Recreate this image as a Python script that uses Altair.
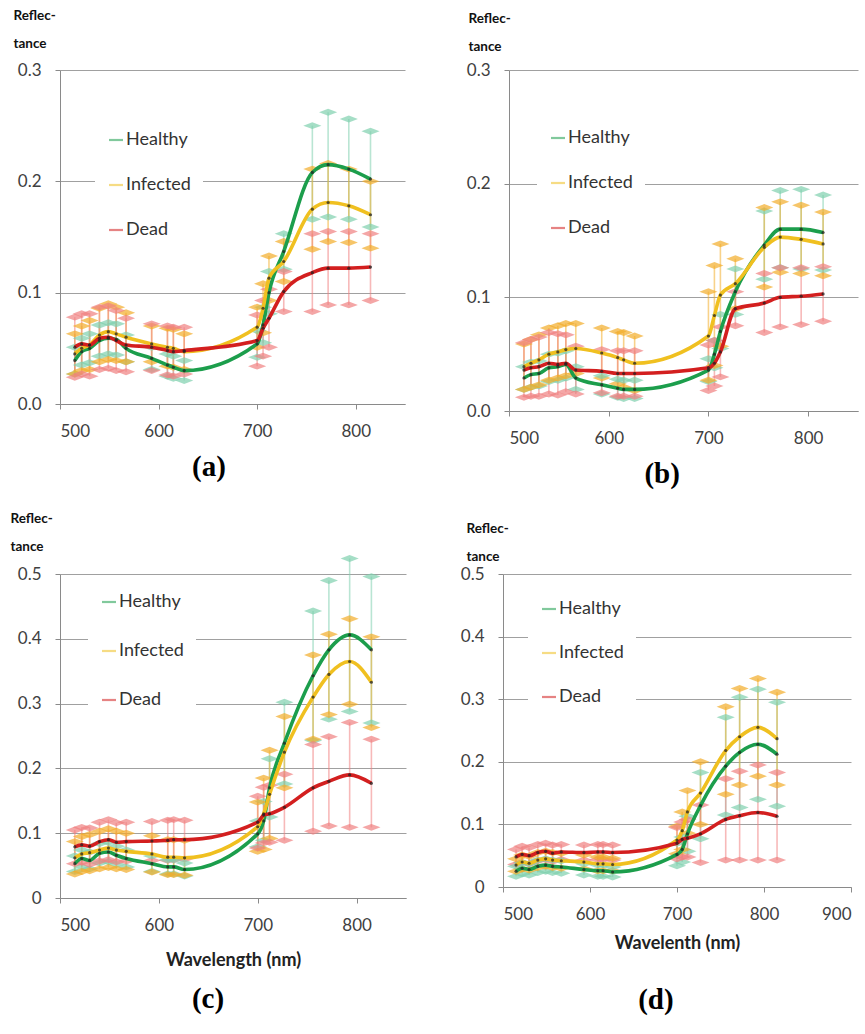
import altair as alt
import pandas as pd

WAVE = [515, 522, 530, 540, 549, 557, 567, 593, 609, 615, 626, 700, 706, 712, 727, 756, 772, 793, 815]
SERIES = ["Healthy", "Infected", "Dead"]
LINE_COLORS = ["#1c9e4c", "#f0c020", "#d31f1f"]
ERR_COLORS = ["#7fd0ae", "#f2ad2a", "#f08080"]

# Panel (a)
A_H = [0.039, 0.047, 0.050, 0.057, 0.059, 0.058, 0.050, 0.041, 0.035, 0.033, 0.030, 0.054, 0.071, 0.100, 0.137, 0.208, 0.215, 0.211, 0.202]
A_H_SD = [0.012, 0.012, 0.013, 0.014, 0.014, 0.014, 0.012, 0.010, 0.010, 0.010, 0.009, 0.012, 0.016, 0.019, 0.016, 0.042, 0.047, 0.045, 0.043]
A_I = [0.045, 0.050, 0.053, 0.062, 0.065, 0.063, 0.060, 0.054, 0.051, 0.050, 0.047, 0.069, 0.086, 0.113, 0.128, 0.175, 0.181, 0.178, 0.170]
A_I_SD = [0.018, 0.020, 0.022, 0.024, 0.025, 0.024, 0.022, 0.016, 0.017, 0.017, 0.016, 0.018, 0.022, 0.020, 0.018, 0.036, 0.035, 0.033, 0.030]
A_D = [0.051, 0.054, 0.053, 0.059, 0.060, 0.057, 0.053, 0.051, 0.048, 0.047, 0.048, 0.057, 0.068, 0.077, 0.101, 0.118, 0.122, 0.122, 0.123]
A_D_SD = [0.027, 0.027, 0.028, 0.028, 0.028, 0.027, 0.024, 0.021, 0.022, 0.022, 0.021, 0.023, 0.025, 0.026, 0.018, 0.035, 0.033, 0.033, 0.030]

# Panel (b)
B_H = [0.029, 0.032, 0.033, 0.038, 0.039, 0.041, 0.029, 0.023, 0.020, 0.019, 0.019, 0.036, 0.050, 0.070, 0.105, 0.146, 0.160, 0.160, 0.157]
B_H_SD = [0.010, 0.011, 0.011, 0.012, 0.012, 0.012, 0.010, 0.008, 0.008, 0.008, 0.008, 0.010, 0.012, 0.015, 0.020, 0.030, 0.034, 0.035, 0.033]
B_I = [0.039, 0.042, 0.045, 0.050, 0.052, 0.054, 0.055, 0.051, 0.047, 0.045, 0.042, 0.066, 0.084, 0.102, 0.112, 0.144, 0.153, 0.151, 0.147]
B_I_SD = [0.020, 0.021, 0.022, 0.023, 0.023, 0.023, 0.022, 0.022, 0.023, 0.024, 0.024, 0.039, 0.044, 0.045, 0.022, 0.035, 0.031, 0.030, 0.028]
B_D = [0.036, 0.038, 0.039, 0.042, 0.041, 0.042, 0.036, 0.035, 0.033, 0.033, 0.033, 0.038, 0.042, 0.052, 0.090, 0.095, 0.100, 0.101, 0.103]
B_D_SD = [0.024, 0.025, 0.026, 0.027, 0.027, 0.025, 0.021, 0.019, 0.020, 0.020, 0.020, 0.020, 0.020, 0.022, 0.015, 0.026, 0.026, 0.025, 0.024]

# Panel (c)
C_H = [0.053, 0.061, 0.058, 0.069, 0.071, 0.066, 0.061, 0.053, 0.048, 0.048, 0.044, 0.099, 0.119, 0.170, 0.239, 0.343, 0.383, 0.406, 0.383]
C_H_SD = [0.012, 0.013, 0.013, 0.015, 0.015, 0.014, 0.013, 0.012, 0.011, 0.011, 0.010, 0.020, 0.030, 0.045, 0.063, 0.100, 0.107, 0.118, 0.113]
C_I = [0.062, 0.068, 0.070, 0.074, 0.077, 0.074, 0.072, 0.068, 0.063, 0.063, 0.062, 0.110, 0.130, 0.160, 0.225, 0.310, 0.345, 0.365, 0.333]
C_I_SD = [0.025, 0.027, 0.028, 0.029, 0.030, 0.029, 0.028, 0.028, 0.027, 0.027, 0.027, 0.038, 0.055, 0.068, 0.055, 0.065, 0.062, 0.066, 0.070]
C_D = [0.079, 0.082, 0.080, 0.087, 0.090, 0.086, 0.087, 0.088, 0.089, 0.090, 0.090, 0.117, 0.128, 0.130, 0.140, 0.170, 0.180, 0.190, 0.177]
C_D_SD = [0.026, 0.027, 0.028, 0.030, 0.031, 0.030, 0.030, 0.030, 0.031, 0.031, 0.030, 0.040, 0.043, 0.044, 0.051, 0.067, 0.069, 0.081, 0.068]

# Panel (d)
D_H = [0.025, 0.030, 0.028, 0.033, 0.035, 0.033, 0.032, 0.028, 0.026, 0.026, 0.024, 0.052, 0.060, 0.085, 0.130, 0.193, 0.215, 0.228, 0.212]
D_H_SD = [0.008, 0.009, 0.009, 0.010, 0.010, 0.010, 0.010, 0.009, 0.009, 0.009, 0.008, 0.018, 0.020, 0.028, 0.053, 0.078, 0.088, 0.088, 0.083]
D_I = [0.035, 0.040, 0.038, 0.043, 0.045, 0.043, 0.042, 0.040, 0.037, 0.037, 0.036, 0.075, 0.090, 0.120, 0.150, 0.218, 0.240, 0.255, 0.237]
D_I_SD = [0.010, 0.011, 0.011, 0.012, 0.012, 0.012, 0.012, 0.011, 0.011, 0.011, 0.010, 0.022, 0.030, 0.034, 0.050, 0.070, 0.077, 0.078, 0.074]
D_D = [0.048, 0.052, 0.050, 0.055, 0.057, 0.054, 0.056, 0.055, 0.056, 0.056, 0.055, 0.070, 0.076, 0.078, 0.085, 0.108, 0.114, 0.119, 0.113]
D_D_SD = [0.012, 0.013, 0.013, 0.013, 0.013, 0.013, 0.012, 0.012, 0.012, 0.012, 0.012, 0.025, 0.028, 0.030, 0.046, 0.065, 0.071, 0.076, 0.070]

DIAMOND = "M-1,0L0,-0.38L1,0L0,0.38Z"
FONT = "Lato"


def make_frame(means, sds):
    rows = []
    for name, m, s, ec in zip(SERIES, means, sds, ERR_COLORS):
        for w, mv, sv in zip(WAVE, m, s):
            rows.append(dict(wave=w, series=name, mean=mv, lo=mv - sv, hi=mv + sv, ecolor=ec))
    return pd.DataFrame(rows)


def panel(means, sds, ymax, yvals, zero_label, xmax, xvals, width, height,
          ytitle_x, ytitle_y, leg_x, leg_y, row_pad, caption, cap_offset,
          xtitle=None, xtitle_pad=10):
    df = make_frame(means, sds)
    xaxis = alt.Axis(values=xvals, title=xtitle if xtitle else None, grid=False,
                     labelFontSize=17, labelFont=FONT, labelColor="#404040",
                     domainColor="#8a8a8a", tickColor="#8a8a8a", tickSize=5,
                     labelPadding=14, titleFont=FONT, titleFontSize=18,
                     titleFontWeight="bold", titleColor="#222222", titlePadding=xtitle_pad)
    x = alt.X("wave:Q", scale=alt.Scale(domain=[500, xmax], nice=False, zero=False), axis=xaxis)
    yexpr = "datum.value == 0 ? '%s' : format(datum.value, '.1f')" % zero_label
    yaxis = alt.Axis(values=yvals, labelExpr=yexpr, title=["Reflec-", "tance"],
                     titleAngle=0, titleAlign="left", titleBaseline="alphabetic",
                     titleX=ytitle_x, titleY=ytitle_y, titleFont=FONT,
                     titleFontSize=13.5, titleFontWeight="bold", titleColor="#111111",
                     titleLineHeight=28, grid=True, gridColor="#a0a0a0", gridWidth=1,
                     labelFontSize=17, labelFont=FONT, labelColor="#404040",
                     domainColor="#8a8a8a", tickColor="#8a8a8a", tickSize=5, labelPadding=14)
    yscale = alt.Scale(domain=[0, ymax], nice=False)

    def Y(field):
        return alt.Y(field + ":Q", scale=yscale, axis=yaxis)

    base = alt.Chart(df)
    rules = base.mark_rule(strokeWidth=1.6, opacity=0.55).encode(
        x=x, y=Y("lo"), y2="hi", color=alt.Color("ecolor:N", scale=None))
    caps_lo = base.mark_point(shape=DIAMOND, filled=True, size=330, opacity=0.7, strokeWidth=0).encode(
        x=x, y=Y("lo"), color=alt.Color("ecolor:N", scale=None))
    caps_hi = base.mark_point(shape=DIAMOND, filled=True, size=330, opacity=0.7, strokeWidth=0).encode(
        x=x, y=Y("hi"), color=alt.Color("ecolor:N", scale=None))
    legend = alt.Legend(orient="none", legendX=leg_x, legendY=leg_y, direction="vertical",
                        title=None, fillColor="white", padding=12,
                        symbolType="stroke", symbolSize=196, symbolStrokeWidth=2.2,
                        symbolOpacity=0.75,
                        labelFont=FONT, labelFontSize=18, labelColor="#333333",
                        labelOffset=1, rowPadding=row_pad)
    color = alt.Color("series:N", scale=alt.Scale(domain=SERIES, range=LINE_COLORS),
                      legend=legend)
    lines = []
    for s in SERIES:
        lines.append(base.transform_filter(alt.datum.series == s).mark_line(
            interpolate="monotone", strokeWidth=3.6).encode(x=x, y=Y("mean"), color=color))
    dots = base.mark_point(filled=True, size=10, color="#222222", opacity=0.75, strokeWidth=0).encode(
        x=x, y=Y("mean"))
    layer = alt.layer(rules, caps_lo, caps_hi, *lines, dots).properties(
        width=width, height=height,
        title=alt.TitleParams(caption, orient="bottom", anchor="middle", frame="bounds",
                              font="Liberation Serif", fontSize=29, fontWeight="bold",
                              color="black", offset=cap_offset))
    return layer


pa = panel([A_H, A_I, A_D], [A_H_SD, A_I_SD, A_D_SD], 0.3, [0, 0.1, 0.2, 0.3], "0.0",
           850, [500, 600, 700, 800], 345, 334, -47, -51, 35, 49, 27, "(a)", 14)
pb = panel([B_H, B_I, B_D], [B_H_SD, B_I_SD, B_D_SD], 0.3, [0, 0.1, 0.2, 0.3], "0.0",
           850, [500, 600, 700, 800], 349, 341, -41, -48, 28, 47, 27, "(b)", 14)
pc = panel([C_H, C_I, C_D], [C_H_SD, C_I_SD, C_D_SD], 0.5, [0, 0.1, 0.2, 0.3, 0.4, 0.5], "0",
           850, [500, 600, 700, 800], 346, 324, -50, -52, 28, 7, 31, "(c)", 16,
           xtitle="Wavelength (nm)", xtitle_pad=18)
pd_ = panel([D_H, D_I, D_D], [D_H_SD, D_I_SD, D_D_SD], 0.5, [0, 0.1, 0.2, 0.3, 0.4, 0.5], "0",
            900, [500, 600, 700, 800, 900], 348, 313, -37, -42, 25, 14, 26, "(d)", 34,
            xtitle="Wavelenth (nm)", xtitle_pad=12)

top = alt.hconcat(pa, pb, spacing=61).resolve_scale(color="independent").resolve_legend(color="independent")
bottom = alt.hconcat(pc, pd_, spacing=54).resolve_scale(color="independent").resolve_legend(color="independent")
chart = alt.vconcat(top, bottom, spacing=22).resolve_scale(color="independent").resolve_legend(
    color="independent").properties(
    padding={"left": 10, "top": 8, "right": 2, "bottom": 2}, background="white"
).configure_view(stroke=None)

chart.save("out.html", embed_options={"renderer": "svg", "actions": False})
